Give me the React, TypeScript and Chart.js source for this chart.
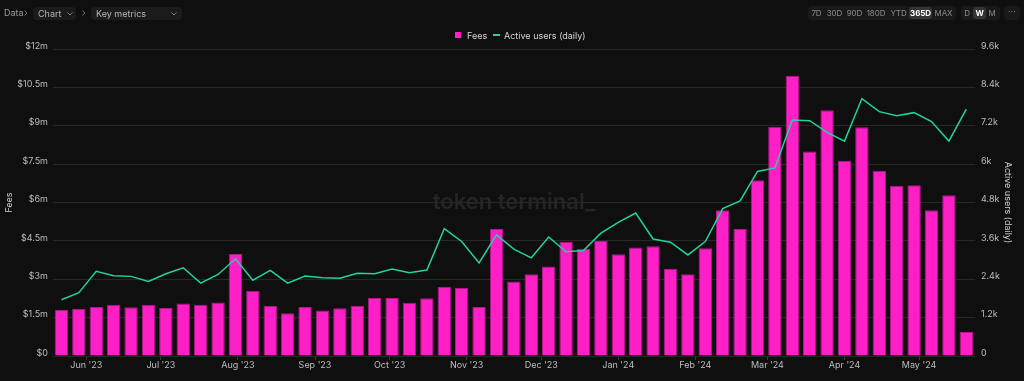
import React, { useEffect, useRef } from 'react';
import { Chart, registerables } from 'chart.js';

Chart.register(...registerables);

// ---- data ----
const weekStarts = [
  '2023-05-22', '2023-05-29', '2023-06-05', '2023-06-12', '2023-06-19', '2023-06-26',
  '2023-07-03', '2023-07-10', '2023-07-17', '2023-07-24', '2023-07-31',
  '2023-08-07', '2023-08-14', '2023-08-21', '2023-08-28',
  '2023-09-04', '2023-09-11', '2023-09-18', '2023-09-25',
  '2023-10-02', '2023-10-09', '2023-10-16', '2023-10-23', '2023-10-30',
  '2023-11-06', '2023-11-13', '2023-11-20', '2023-11-27',
  '2023-12-04', '2023-12-11', '2023-12-18', '2023-12-25',
  '2024-01-01', '2024-01-08', '2024-01-15', '2024-01-22', '2024-01-29',
  '2024-02-05', '2024-02-12', '2024-02-19', '2024-02-26',
  '2024-03-04', '2024-03-11', '2024-03-18', '2024-03-25',
  '2024-04-01', '2024-04-08', '2024-04-15', '2024-04-22', '2024-04-29',
  '2024-05-06', '2024-05-13', '2024-05-20',
];

// Fees, USD millions
const feesMillions = [
  1.80, 1.84, 1.92, 2.00, 1.91, 2.00, 1.88, 2.05, 2.00, 2.09,
  3.99, 2.54, 1.95, 1.67, 1.92, 1.78, 1.87, 1.96, 2.27, 2.27,
  2.08, 2.26, 2.70, 2.66, 1.92, 4.96, 2.91, 3.20, 3.50, 4.47,
  4.19, 4.50, 3.98, 4.24, 4.29, 3.40, 3.20, 4.21, 5.70, 4.96,
  6.87, 8.96, 10.95, 7.99, 9.61, 7.63, 8.94, 7.24, 6.65, 6.67,
  5.70, 6.28, 0.94,
];

// Active users (daily), thousands
const activeUsersK = [
  1.76, 1.98, 2.65, 2.51, 2.49, 2.33, 2.57, 2.76, 2.28, 2.55,
  3.04, 2.37, 2.68, 2.28, 2.50, 2.45, 2.43, 2.59, 2.57, 2.72,
  2.60, 2.69, 3.98, 3.58, 2.91, 3.79, 3.34, 3.07, 3.72, 3.26,
  3.30, 3.84, 4.18, 4.47, 3.66, 3.56, 3.16, 3.58, 4.61, 4.85,
  5.77, 5.88, 7.38, 7.36, 6.99, 6.72, 8.05, 7.64, 7.51, 7.61,
  7.33, 6.72, 7.72,
];

const monthTickDates = [
  '2023-06-01', '2023-07-01', '2023-08-01', '2023-09-01', '2023-10-01', '2023-11-01',
  '2023-12-01', '2024-01-01', '2024-02-01', '2024-03-01', '2024-04-01', '2024-05-01',
];
const monthTickLabels = [
  "Jun '23", "Jul '23", "Aug '23", "Sep '23", "Oct '23", "Nov '23",
  "Dec '23", "Jan '24", "Feb '24", "Mar '24", "Apr '24", "May '24",
];

const rangeButtons = ['7D', '30D', '90D', '180D', 'YTD', '365D', 'MAX'];
const granularityButtons = ['D', 'W', 'M'];

// ---- style ----
const BG = '#0f0f0f';
const PINK = '#ff1fc6';
const PINK_EDGE = '#b0188a';
const GREEN = '#22d39b';
const GRID = '#272727';
const TICK = '#bdbdbd';
const FONT = 'Inter, "Noto Sans", sans-serif';

const BASE = Date.parse(weekStarts[0]);
const toDay = (d: string) => Math.round((Date.parse(d) - BASE) / 86400000);
const weekDays = weekStarts.map(toDay);
const monthDays = monthTickDates.map(toDay);

const watermark = {
  id: 'watermark',
  beforeDatasetsDraw(chart: any) {
    const { ctx, chartArea } = chart;
    ctx.save();
    ctx.font = `600 22px ${FONT}`;
    ctx.fillStyle = '#252525';
    ctx.textAlign = 'center';
    ctx.textBaseline = 'middle';
    ctx.fillText('token terminal_', (chartArea.left + chartArea.right) / 2, 202);
    ctx.restore();
  },
};

const ChevronDown = ({ left }: { left: number }) => (
  <svg width="6" height="4" viewBox="0 0 6 4" style={{ position: 'absolute', left, top: 5 }}>
    <path d="M0.5 0.5 L3 3 L5.5 0.5" stroke="#8a8a8a" strokeWidth="0.9" fill="none" />
  </svg>
);
const ChevronRight = ({ left }: { left: number }) => (
  <svg width="4" height="6" viewBox="0 0 4 6" style={{ position: 'absolute', left, top: 10 }}>
    <path d="M0.5 0.5 L3 3 L0.5 5.5" stroke="#777" strokeWidth="0.9" fill="none" />
  </svg>
);

export default function App() {
  const ref = useRef<HTMLCanvasElement>(null);

  useEffect(() => {
    document.body.style.margin = '0';
    document.body.style.background = BG;
    const canvas = ref.current!;
    const chart = new Chart(canvas, {
      type: 'bar',
      data: {
        datasets: [
          {
            type: 'bar',
            label: 'Fees',
            data: weekDays.map((x, i) => ({ x, y: feesMillions[i] })),
            backgroundColor: PINK,
            borderColor: PINK_EDGE,
            borderWidth: 1,
            barPercentage: 0.77,
            categoryPercentage: 1,
            yAxisID: 'y',
            order: 1,
          } as any,
          {
            type: 'line',
            label: 'Active users (daily)',
            data: weekDays.map((x, i) => ({ x, y: activeUsersK[i] })),
            borderColor: GREEN,
            backgroundColor: GREEN,
            borderWidth: 1.5,
            pointRadius: 0,
            tension: 0,
            yAxisID: 'y1',
            order: 0,
          } as any,
        ],
      },
      options: {
        responsive: false,
        animation: false,
        devicePixelRatio: 1,
        layout: { padding: { top: 49, left: 0, right: 0, bottom: 0 } },
        plugins: { legend: { display: false }, tooltip: { enabled: false } },
        scales: {
          x: {
            type: 'linear',
            min: -3.4,
            max: 367.5,
            offset: false,
            afterBuildTicks: (scale: any) => {
              scale.ticks = monthDays.map((v) => ({ value: v }));
            },
            afterFit: (scale: any) => {
              scale.height = 25;
            },
            grid: {
              display: true,
              offset: false,
              drawOnChartArea: false,
              drawTicks: true,
              tickLength: 4,
              color: '#3a3a3a',
            },
            border: { display: false },
            ticks: {
              autoSkip: false,
              maxRotation: 0,
              padding: 0,
              color: TICK,
              font: { family: FONT, size: 9 },
              callback: (v: any) => {
                const idx = monthDays.indexOf(Number(v));
                return idx >= 0 ? monthTickLabels[idx] : '';
              },
            },
          },
          y: {
            position: 'left',
            min: 0,
            max: 12,
            afterFit: (scale: any) => {
              scale.width = 53;
            },
            grid: { color: GRID, drawTicks: false },
            border: { display: false },
            ticks: {
              stepSize: 1.5,
              padding: 5,
              labelOffset: -3,
              color: TICK,
              font: { family: FONT, size: 9 },
              callback: (v: any) => {
                const n = Math.round(Number(v) * 10) / 10;
                return n === 0 ? '$0' : `$${n}m`;
              },
            },
            title: {
              display: true,
              text: 'Fees',
              color: '#d0d0d0',
              font: { family: FONT, size: 9 },
              padding: { top: 4, bottom: 0 },
            },
          },
          y1: {
            position: 'right',
            min: 0,
            max: 9.6,
            afterFit: (scale: any) => {
              scale.width = 49;
            },
            grid: { drawOnChartArea: false, drawTicks: false },
            border: { display: false },
            ticks: {
              stepSize: 1.2,
              padding: 6,
              labelOffset: -3,
              color: TICK,
              font: { family: FONT, size: 9 },
              callback: (v: any) => {
                const n = Math.round(Number(v) * 10) / 10;
                return n === 0 ? '0' : `${n}k`;
              },
            },
            title: {
              display: true,
              text: 'Active users (daily)',
              color: '#d0d0d0',
              font: { family: FONT, size: 9 },
              padding: { top: 11, bottom: 0 },
            },
          },
        },
      } as any,
      plugins: [watermark],
    });
    return () => chart.destroy();
  }, []);

  const textStyle: React.CSSProperties = {
    position: 'absolute',
    fontFamily: FONT,
    fontSize: 9,
    lineHeight: '13px',
    whiteSpace: 'nowrap',
  };

  const rangeCenters = [816.5, 834.5, 854.5, 876, 898.5, 920.5, 943.5];
  const granCenters = [967, 979.5, 992];

  const btnText = (label: string, center: number, active: boolean) => (
    <span
      key={label}
      style={{
        ...textStyle,
        left: center - 15,
        width: 30,
        textAlign: 'center',
        top: 6,
        fontSize: 8,
        lineHeight: '14px',
        letterSpacing: '-0.1px',
        color: active ? '#ffffff' : '#8c8c8c',
        fontWeight: active ? 700 : 400,
      }}
    >
      {label}
    </span>
  );

  return (
    <div style={{ position: 'relative', width: 1024, height: 381, background: BG, overflow: 'hidden' }}>
      <canvas ref={ref} width={1024} height={381} style={{ position: 'absolute', left: 0, top: 0, width: 1024, height: 381 }} />

      {/* breadcrumb */}
      <span style={{ ...textStyle, left: 4, top: 6, color: '#9a9a9a' }}>Data</span>
      <ChevronRight left={24} />
      <div style={{ position: 'absolute', left: 33, top: 7, width: 43, height: 13, background: '#1b1b1b', borderRadius: 4 }}>
        <span style={{ ...textStyle, left: 5, top: 0, color: '#b5b5b5' }}>Chart</span>
        <ChevronDown left={34} />
      </div>
      <ChevronRight left={82} />
      <div style={{ position: 'absolute', left: 91, top: 7, width: 91, height: 13, background: '#1b1b1b', borderRadius: 4 }}>
        <span style={{ ...textStyle, left: 5, top: 0, color: '#b5b5b5' }}>Key metrics</span>
        <ChevronDown left={80} />
      </div>

      {/* range buttons */}
      <div style={{ position: 'absolute', left: 808, top: 6, width: 148, height: 14, background: '#191919', borderRadius: 4 }} />
      <div style={{ position: 'absolute', left: 909, top: 7, width: 23, height: 12, background: '#333333', borderRadius: 3 }} />
      {rangeButtons.map((b, i) => btnText(b, rangeCenters[i], b === '365D'))}

      <div style={{ position: 'absolute', left: 961, top: 6, width: 39, height: 14, background: '#191919', borderRadius: 4 }} />
      <div style={{ position: 'absolute', left: 973, top: 7, width: 13, height: 12, background: '#333333', borderRadius: 3 }} />
      {granularityButtons.map((b, i) => btnText(b, granCenters[i], b === 'W'))}

      <div style={{ position: 'absolute', left: 1004, top: 6, width: 16, height: 14, background: '#191919', borderRadius: 4 }}>
        <span style={{ ...textStyle, left: 4, top: 0, lineHeight: '12px', color: '#8c8c8c' }}>···</span>
      </div>

      {/* legend */}
      <div style={{ position: 'absolute', left: 455, top: 32, width: 6, height: 6, background: PINK }} />
      <span style={{ ...textStyle, left: 467, top: 28.5, color: '#d6d6d6' }}>Fees</span>
      <div style={{ position: 'absolute', left: 493, top: 34, width: 7, height: 2, background: GREEN }} />
      <span style={{ ...textStyle, left: 504, top: 28.5, color: '#d6d6d6' }}>Active users (daily)</span>
    </div>
  );
}
